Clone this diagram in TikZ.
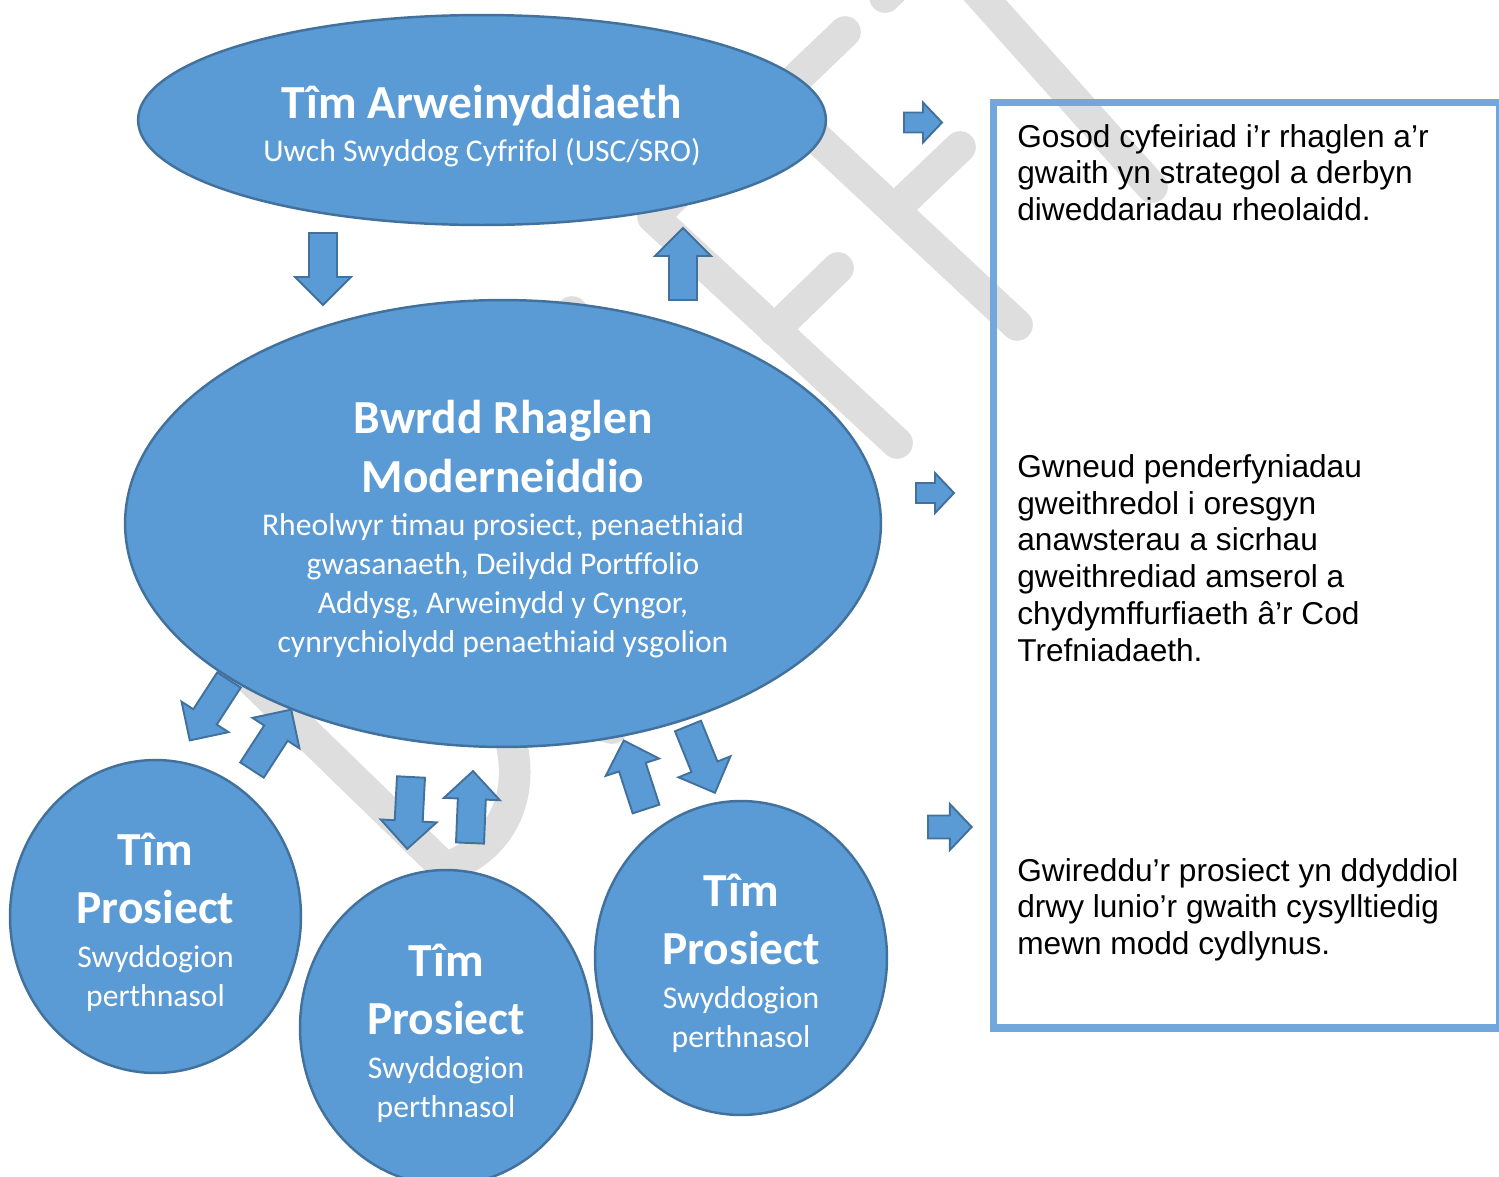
\documentclass[tikz,border=0pt]{standalone}
\usepackage{fontspec}
\setmainfont{Carlito}
\newfontfamily\arialfont{Liberation Sans}
\usetikzlibrary{shapes.geometric}
\definecolor{bfill}{RGB}{91,155,213}
\definecolor{bline}{RGB}{65,113,156}
\definecolor{boxline}{RGB}{113,167,219}
\definecolor{wmark}{RGB}{222,222,222}
\tikzset{
  shp/.style={ellipse, draw=bline, fill=bfill, line width=1.4pt, inner sep=0pt, outer sep=0pt},
  ttl/.style={anchor=base, text=white, font=\fontsize{27}{33}\selectfont\bfseries, inner sep=0pt},
  sub/.style={anchor=base, text=white, font=\fontsize{18}{22}\selectfont, inner sep=0pt},
  boxtxt/.style={anchor=base west, text=black, font=\arialfont\fontsize{18}{21}\selectfont, inner sep=0pt},
  wm/.style={draw=wmark, line width=18pt, line cap=round, line join=round},
  barr/.style={draw=bline, fill=bfill, line width=1.1pt, line join=miter},
  pics/bigarrow/.style={code={\draw[barr] (0,-14) -- (44,-14) -- (44,-28) -- (72,0) -- (44,28) -- (44,14) -- (0,14) -- cycle;}},
  pics/smallarrow/.style={code={\draw[barr] (0,-10) -- (19,-10) -- (19,-20) -- (38,0) -- (19,20) -- (19,10) -- (0,10) -- cycle;}}
}
\begin{document}
\begin{tikzpicture}[x=0.02cm, y=-0.02cm]
\useasboundingbox (0,0) rectangle (1499,1177);
% watermark (DRAFFT), behind everything
\draw[wm] (190,620) -- (445,868) .. controls (512,845) and (535,775) .. (495,700);
\draw[wm] (500,700) -- (612,728);
\draw[wm] (605,355) -- (572,312);
\draw[wm] (745,128) -- (653,217) -- (897,443);
\draw[wm] (774,330) -- (838,268);
\draw[wm] (845,32) -- (775,99) -- (1017,325);
\draw[wm] (894,210) -- (960,147);
\draw[wm] (885,-3) -- (1000,-115);
\draw[wm] (940,-50) -- (1152,187);
% shapes
\node[shp, minimum width=13.76cm, minimum height=4.2cm] (lead) at (482,120) {};
\node[shp, minimum width=15.12cm, minimum height=8.94cm] (board) at (503,523.5) {};
\node[shp, minimum width=5.82cm, minimum height=6.26cm] (teamL) at (155.5,916.5) {};
\node[shp, minimum width=5.84cm, minimum height=6.3cm] (teamM) at (446,1027.5) {};
\node[shp, minimum width=5.84cm, minimum height=6.28cm] (teamR) at (741,958) {};
% texts
\node[ttl] (leadT) at (482,118) {Tîm Arweinyddiaeth};
\node[sub] (leadS) at (482,161) {Uwch Swyddog Cyfrifol (USC/SRO)};
\node[ttl] (boardT1) at (503,433) {Bwrdd Rhaglen};
\node[ttl] (boardT2) at (503,492) {Moderneiddio};
\node[sub] (boardS1) at (503,535) {Rheolwyr timau prosiect, penaethiaid};
\node[sub] (boardS2) at (503,574) {gwasanaeth, Deilydd Portffolio};
\node[sub] (boardS3) at (503,613) {Addysg, Arweinydd y Cyngor,};
\node[sub] (boardS4) at (503,652) {cynrychiolydd penaethiaid ysgolion};
\foreach \nm/\cx/\cy in {L/155.5/916.5, M/446/1027.5, R/741/958} {
  \node[ttl] (tim\nm) at (\cx,{\cy-51.5}) {Tîm};
  \node[ttl] (pros\nm) at (\cx,{\cy+6.5}) {Prosiect};
  \node[sub] (swyd\nm) at (\cx,{\cy+50.5}) {Swyddogion};
  \node[sub] (perth\nm) at (\cx,{\cy+89.5}) {perthnasol};
}
% block arrows
\coordinate (a1) at (323,233);
\coordinate (a2) at (683,300);
\coordinate (a3) at (229,680);
\coordinate (a4) at (252,770);
\coordinate (a5) at (411,777);
\coordinate (a6) at (470,843);
\coordinate (a7) at (646,809);
\coordinate (a8) at (688,726);
\pic[rotate=-90] at (a1) {bigarrow};
\pic[rotate=90] at (a2) {bigarrow};
\pic[rotate=-123] at (a3) {bigarrow};
\pic[rotate=57] at (a4) {bigarrow};
\pic[rotate=-93] at (a5) {bigarrow};
\pic[rotate=87.6] at (a6) {bigarrow};
\pic[rotate=108] at (a7) {bigarrow};
\pic[rotate=-68] at (a8) {bigarrow};
\coordinate (s1) at (904,122.5);
\coordinate (s2) at (916,493);
\coordinate (s3) at (928,827);
\pic at (s1) {smallarrow};
\pic at (s2) {smallarrow};
\pic[scale=1.15] at (s3) {smallarrow};
% right box
\draw[draw=boxline, line width=4pt] (993.5,102.5) rectangle (1499.5,1028);
\foreach \t [count=\i] in {{Gosod cyfeiriad i’r rhaglen a’r}, {gwaith yn strategol a derbyn}, {diweddariadau rheolaidd.}}
  \node[boxtxt] (pa\i) at (1017,{147+36.8*(\i-1)}) {\t};
\foreach \t [count=\i] in {{Gwneud penderfyniadau}, {gweithredol i oresgyn}, {anawsterau a sicrhau}, {gweithrediad amserol a}, {chydymffurfiaeth â’r Cod}, {Trefniadaeth.}}
  \node[boxtxt] (pb\i) at (1017,{477.5+36.7*(\i-1)}) {\t};
\foreach \t [count=\i] in {{Gwireddu’r prosiect yn ddyddiol}, {drwy lunio’r gwaith cysylltiedig}, {mewn modd cydlynus.}}
  \node[boxtxt] (pc\i) at (1017,{881+36.9*(\i-1)}) {\t};
\end{tikzpicture}
\end{document}
